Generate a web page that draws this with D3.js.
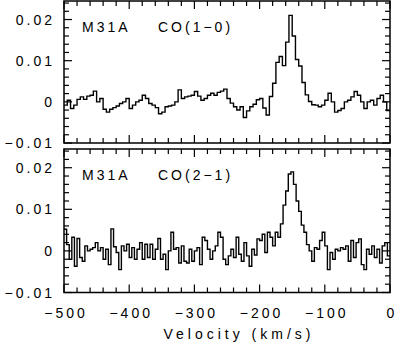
<!DOCTYPE html>
<html lang="en">
<head>
    <meta charset="UTF-8">
    <title>M31A CO spectra</title>
    <style>
        body { margin: 0; background: #fff; }
        text {
            font-family: "Liberation Sans", Arial, sans-serif;
            font-size: 14px;
            fill: #000;
        }
        .frame { fill: none; stroke: #000; stroke-width: 1.5px; }
        .tick { stroke: #000; stroke-width: 1.2px; }
        .spec { fill: none; stroke: #000; stroke-width: 1.4px; }
    </style>
    <script src="https://d3js.org/d3.v7.min.js"></script>
</head>
<body>
    <div id="chart"></div>
    <script>
        const width = 396;
        const height = 343;

        // CO(1-0): 5 km/s channels starting at -500 km/s (values in K)
        const co10Start = -500;
        const co10Width = 5;
        const co10Values = [
            -0.0008, 0.0004, -0.0016, -0.0008, 0.0006, 0.0012, 0.0006, 0.0014, 0.0016, 0.0026,
            0.0, 0.0008, -0.0018, -0.0025, -0.0018, -0.0014, -0.001, -0.0004, 0.0, 0.0008,
            -0.0016, -0.0008, 0.0, 0.0004, 0.0016, 0.0008, -0.0004, -0.0008, -0.0014, -0.0029,
            -0.0025, -0.0012, -0.001, -0.0008, 0.0, 0.0029, 0.0008, 0.0012, 0.0014, 0.0016,
            0.0025, 0.0014, 0.0004, 0.0008, 0.0016, 0.0021, 0.0016, 0.0023, 0.0026, 0.0031,
            0.0008, -0.0003, -0.0012, -0.002, -0.0012, -0.0038, -0.0022, -0.0012, -0.0006, 0.0005,
            0.0008, -0.0015, -0.0032, 0.0013, 0.0045, 0.0096, 0.011, 0.0088, 0.0145, 0.021,
            0.016, 0.0103, 0.0087, 0.0047, 0.0017, 0.0001, -0.0007, -0.0008, -0.0012, -0.0008,
            0.0004, 0.0021, 0.0, -0.0025, -0.0021, -0.0016, 0.0, 0.0004, 0.0012, 0.0025,
            0.0016, 0.0, -0.0016, 0.0, 0.0004, -0.0008, 0.0008, 0.0016, 0.0, -0.0021
        ];

        // CO(2-1): 4 km/s channels starting at -500 km/s
        const co21Start = -500;
        const co21Width = 4;
        const co21Values = [
            0.0052, 0.0015, -0.002, 0.0033, -0.0037, 0.003, -0.0016, -0.0025, 0.0012, 0.0,
            0.0004, 0.0008, 0.002, 0.0, 0.0008, -0.002, 0.0004, -0.0033, 0.0053, 0.001,
            -0.0004, -0.0045, 0.0012, 0.0, 0.0016, -0.0016, 0.0008, -0.002, 0.0004, 0.002,
            -0.002, 0.0016, -0.0016, 0.0016, -0.002, 0.0004, 0.003, -0.002, -0.0008, -0.0045,
            0.0, 0.0045, 0.0004, 0.0008, -0.0029, 0.0012, -0.0025, -0.0029, 0.0004, -0.0025,
            0.0, 0.0008, -0.0033, 0.0033, 0.0025, 0.0004, -0.002, 0.0, 0.0012, 0.0045,
            0.0033, -0.002, -0.0033, -0.0012, 0.0004, -0.0016, 0.0033, -0.0008, -0.0025, 0.002,
            -0.0012, -0.0037, 0.0004, -0.001, 0.0029, 0.0025, 0.004, -0.0004, 0.0045, 0.0033,
            0.0012, 0.0045, 0.0033, 0.0065, 0.011, 0.0144, 0.0185, 0.019, 0.016, 0.012,
            0.0095, 0.0062, 0.0045, 0.0015, 0.0, -0.0025, 0.0008, 0.0004, 0.0025, 0.0045,
            0.0012, -0.0045, -0.0004, -0.002, 0.0004, 0.0, 0.0008, 0.0004, 0.0012, -0.0025,
            0.0025, -0.0016, 0.002, 0.0029, -0.0033, -0.0045, 0.0004, -0.0008, 0.0012, -0.0016,
            0.0004, -0.0029, 0.0012, 0.002, -0.0012
        ];

        const xTicks = [-500, -400, -300, -200, -100, 0];
        const yTicks = [-0.01, 0, 0.01, 0.02];
        const panelLabels = [["M31A", "CO(1\u22120)"], ["M31A", "CO(2\u22121)"]];
        const xTitle = "Velocity (km/s)";

        const svg = d3.select("#chart").append("svg")
            .attr("width", width)
            .attr("height", height);

        const x = d3.scaleLinear().domain([-500, 0]).range([64, 390]);
        const fmtY = v => v === 0 ? "0" : d3.format(".2f")(v).replace("-", "\u2212");
        const fmtX = v => v === 0 ? "0" : String(v).replace("-", "\u2212");

        function drawPanel(top, bottom, start, step, values, labels, showX, id) {
            const y = d3.scaleLinear().domain([-0.01, 0.0245]).range([bottom, top]);
            const g = svg.append("g");

            g.append("clipPath").attr("id", id)
                .append("rect")
                .attr("x", x(-500)).attr("y", top)
                .attr("width", x(0) - x(-500)).attr("height", bottom - top);

            // step spectrum: each channel drawn from its left edge
            const pts = values.map((v, i) => [start + i * step, v]);
            pts.push([start + values.length * step, values[values.length - 1]]);
            const line = d3.line()
                .x(d => x(d[0]))
                .y(d => y(d[1]))
                .curve(d3.curveStepAfter);
            g.append("path")
                .attr("class", "spec")
                .attr("clip-path", `url(#${id})`)
                .attr("d", line(pts));

            // ticks on all four sides, pointing inward
            const xMinor = d3.ticks(-500, 0, 25);
            const yMinor = d3.ticks(-0.01, 0.0245, 17);
            const xLen = v => xTicks.includes(v) ? 8 : 5;
            const yLen = v => yTicks.some(t => Math.abs(t - v) < 1e-9) ? 8 : 5;

            xMinor.forEach(v => {
                g.append("line").attr("class", "tick")
                    .attr("x1", x(v)).attr("x2", x(v))
                    .attr("y1", bottom).attr("y2", bottom - xLen(v));
                g.append("line").attr("class", "tick")
                    .attr("x1", x(v)).attr("x2", x(v))
                    .attr("y1", top).attr("y2", top + xLen(v));
            });
            yMinor.forEach(v => {
                g.append("line").attr("class", "tick")
                    .attr("x1", x(-500)).attr("x2", x(-500) + yLen(v))
                    .attr("y1", y(v)).attr("y2", y(v));
                g.append("line").attr("class", "tick")
                    .attr("x1", x(0)).attr("x2", x(0) - yLen(v))
                    .attr("y1", y(v)).attr("y2", y(v));
            });

            g.append("rect")
                .attr("class", "frame")
                .attr("x", x(-500)).attr("y", top)
                .attr("width", x(0) - x(-500)).attr("height", bottom - top);

            g.selectAll(".ylab")
                .data(yTicks)
                .join("text")
                .attr("class", "ylab")
                .attr("x", 55)
                .attr("y", d => y(d))
                .attr("dy", "0.36em")
                .attr("text-anchor", "end")
                .style("letter-spacing", "3px")
                .text(fmtY);

            g.append("text")
                .attr("x", 82).attr("y", top + 31)
                .style("letter-spacing", "3px")
                .text(labels[0]);
            g.append("text")
                .attr("x", 158).attr("y", top + 31)
                .style("letter-spacing", "3px")
                .text(labels[1]);

            if (showX) {
                g.selectAll(".xlab")
                    .data(xTicks)
                    .join("text")
                    .attr("class", "xlab")
                    .attr("x", d => x(d) + 2)
                    .attr("y", bottom + 25)
                    .attr("text-anchor", "middle")
                    .style("letter-spacing", "3px")
                    .text(fmtX);
            }
        }

        drawPanel(1, 143, co10Start, co10Width, co10Values, panelLabels[0], false, "clip1");
        drawPanel(149, 292.5, co21Start, co21Width, co21Values, panelLabels[1], true, "clip2");

        svg.append("text")
            .attr("x", 239)
            .attr("y", 339)
            .attr("text-anchor", "middle")
            .style("letter-spacing", "4px")
            .text(xTitle);
    </script>
</body>
</html>
